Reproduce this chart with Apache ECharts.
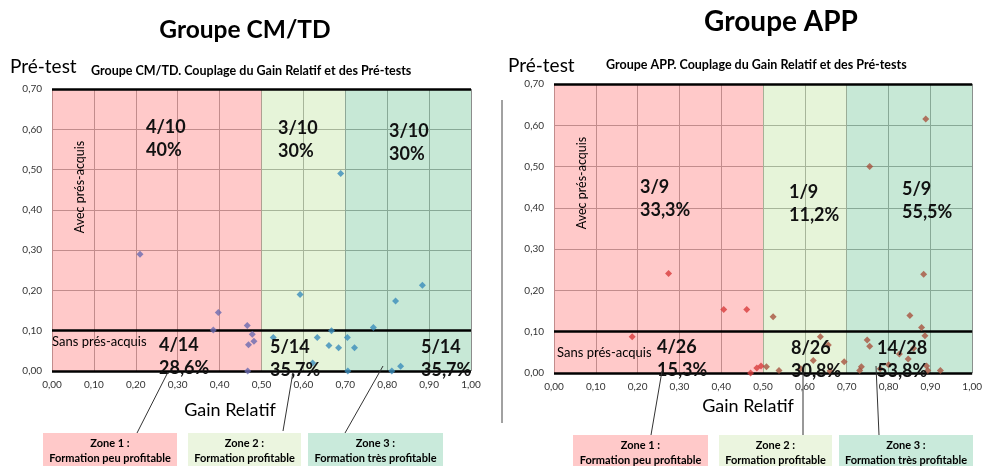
<!DOCTYPE html>
<html><head><meta charset="utf-8">
<script src="https://cdn.jsdelivr.net/npm/echarts@6/dist/echarts.min.js"></script>
<style>html,body{margin:0;padding:0;background:#fff}#c{width:985px;height:466px}</style>
</head><body><div id="c"></div>
<script>
// ---- data ----
const leftX = [0.21, 0.397, 0.385, 0.466, 0.592, 0.667, 0.689, 0.767, 0.82, 0.884,
               0.478, 0.482, 0.469, 0.467, 0.528, 0.633, 0.661, 0.684, 0.622, 0.705, 0.722, 0.706, 0.811, 0.832];
const leftY = [0.29, 0.145, 0.102, 0.113, 0.19, 0.10, 0.49, 0.108, 0.174, 0.213,
               0.091, 0.074, 0.065, 0.0, 0.083, 0.083, 0.063, 0.058, 0.02, 0.083, 0.058, 0.0, 0.0, 0.012];
const rightX = [0.274, 0.406, 0.461, 0.524, 0.889, 0.755, 0.884, 0.851, 0.879,
                0.187, 0.495, 0.485, 0.47, 0.508, 0.538, 0.637, 0.656, 0.694, 0.59, 0.62, 0.66,
                0.749, 0.755, 0.826, 0.847, 0.735, 0.731, 0.891, 0.894, 0.924, 0.887, 0.80, 0.86, 0.78];
const rightY = [0.241, 0.154, 0.154, 0.136, 0.615, 0.50, 0.239, 0.139, 0.11,
                0.088, 0.017, 0.012, 0.0, 0.015, 0.006, 0.088, 0.068, 0.027, 0.01, 0.03, 0.005,
                0.08, 0.065, 0.046, 0.034, 0.015, 0.006, 0.017, 0.006, 0.006, 0.09, 0.02, 0.06, 0.01];
const zoneBounds = [0, 0.5, 0.7, 1.0];
const thresholds = [0, 0.1, 0.7];
const titles = ['Groupe CM/TD', 'Groupe APP'];
const subtitles = ['Groupe CM/TD. Couplage du Gain Relatif et des Pré-tests', 'Groupe APP. Couplage du Gain Relatif et des Pré-tests'];
const leftHigh = ['4/10\n40%', '3/10\n30%', '3/10\n30%'];
const leftLow = ['4/14\n28,6%', '5/14\n35,7%', '5/14\n35,7%'];
const rightHigh = ['3/9\n33,3%', '1/9\n11,2%', '5/9\n55,5%'];
const rightLow = ['4/26\n15,3%', '8/26\n30,8%', '14/28\n53,8%'];
const zoneNames = ['Zone 1 :', 'Zone 2 :', 'Zone 3 :'];
const zoneDesc = ['Formation peu profitable', 'Formation profitable', 'Formation très profitable'];
const yName = 'Pré-test', xName = 'Gain Relatif';
const avecLbl = 'Avec prés-acquis', sansLbl = 'Sans prés-acquis';

// ---- build ----
const F = 'Lato, "Open Sans", sans-serif';
const fmt = v => v.toFixed(2).replace('.', ',');
const zoneOverlay = ['rgba(255,140,140,0.47)', 'rgba(200,230,170,0.45)', 'rgba(130,205,165,0.45)'];
const boxColors = ['#ffc9c9', '#ebf5df', '#c9eadb'];

function axes(gi) {
  return {
    x: { type: 'value', gridIndex: gi, min: 0, max: 1, interval: 0.1,
         axisLine: { show: false }, axisTick: { show: false },
         axisLabel: { formatter: fmt, fontSize: 10, color: '#333', margin: 9, fontFamily: F },
         splitLine: { show: true, lineStyle: { color: '#8c8c8c', width: 1 } } },
    y: { type: 'value', gridIndex: gi, min: 0, max: 0.7, interval: 0.1,
         axisLine: { show: false }, axisTick: { show: false },
         axisLabel: { formatter: fmt, fontSize: 10, color: '#333', margin: 10, fontFamily: F },
         splitLine: { show: true, lineStyle: { color: '#8c8c8c', width: 1 } } }
  };
}
const a0 = axes(0), a1 = axes(1);

function zoneSeries(i) {
  return { type: 'scatter', xAxisIndex: i, yAxisIndex: i, data: [], z: 1, silent: true,
    markArea: { silent: true, data: zoneOverlay.map((c, k) => [
      { xAxis: zoneBounds[k], itemStyle: { color: c } }, { xAxis: zoneBounds[k + 1] }]) },
    markLine: { silent: true, symbol: 'none', label: { show: false },
      lineStyle: { color: '#000', width: 2.5, type: 'solid' },
      data: thresholds.map(t => ({ yAxis: t })) } };
}
function pts(xs, ys, i, cLow, cHigh) {
  return { type: 'scatter', xAxisIndex: i, yAxisIndex: i, z: 5, symbol: 'diamond', symbolSize: 7,
    data: xs.map((x, k) => [x, ys[k]]),
    itemStyle: { color: p => p.value[0] < zoneBounds[1] ? cLow : cHigh } };
}

const g = [];
function txt(x, y, text, o) {
  g.push({ type: 'text', x, y, z: 100, style: Object.assign({ text, fill: '#000', fontFamily: F }, o || {}) });
}
function line(x1, y1, x2, y2, c, w) {
  g.push({ type: 'line', z: 100, shape: { x1, y1, x2, y2 }, style: { stroke: c || '#333', lineWidth: w || 1 } });
}
// titles
txt(245, 30, titles[0], { fontSize: 24.5, fontWeight: 'bold', align: 'center', verticalAlign: 'middle' });
txt(781, 22, titles[1], { fontSize: 28, fontWeight: 'bold', align: 'center', verticalAlign: 'middle' });
txt(10, 67, yName, { fontSize: 19, verticalAlign: 'middle' });
txt(508, 66, yName, { fontSize: 19, verticalAlign: 'middle' });
txt(91, 71, subtitles[0], { fontSize: 12.5, fontWeight: 'bold', verticalAlign: 'middle' });
txt(606, 65, subtitles[1], { fontSize: 12.5, fontWeight: 'bold', verticalAlign: 'middle' });
// separator
line(502, 100, 502, 423, '#444', 1);
// avec / sans
g.push({ type: 'text', x: 80, y: 187, z: 100, rotation: Math.PI / 2, style: { text: avecLbl, fontSize: 12.5, fontFamily: F, fill: '#000', align: 'center', verticalAlign: 'middle' } });
g.push({ type: 'text', x: 582, y: 183, z: 100, rotation: Math.PI / 2, style: { text: avecLbl, fontSize: 12.5, fontFamily: F, fill: '#000', align: 'center', verticalAlign: 'middle' } });
txt(52, 342, sansLbl, { fontSize: 13, verticalAlign: 'middle' });
txt(557, 353, sansLbl, { fontSize: 13, verticalAlign: 'middle' });
// annotations
const bold = { fontSize: 18, fontWeight: 'bold', lineHeight: 23, verticalAlign: 'top', fill: '#111' };
[[146, 116], [278, 117], [389, 120]].forEach((p, k) => txt(p[0], p[1], leftHigh[k], bold));
[[159, 334], [270, 336], [421, 336]].forEach((p, k) => txt(p[0], p[1], leftLow[k], bold));
[[640, 176], [789, 181], [902, 178]].forEach((p, k) => txt(p[0], p[1], rightHigh[k], bold));
[[657, 336], [791, 337], [877, 337]].forEach((p, k) => txt(p[0], p[1], rightLow[k], bold));
// axis names
txt(230, 410, xName, { fontSize: 18, align: 'center', verticalAlign: 'middle' });
txt(748, 406, xName, { fontSize: 18, align: 'center', verticalAlign: 'middle' });
// leader lines
line(137, 433, 168, 372); line(283, 431, 293, 372); line(345, 433, 383, 366);
line(651, 435, 662, 371); line(803, 435, 803, 372); line(879, 435, 876, 366);
// zone boxes
function boxes(list, top) {
  list.forEach((b, k) => {
    g.push({ type: 'rect', z: 90, shape: { x: b[0], y: top, width: b[1] - b[0], height: 466 - top }, style: { fill: boxColors[k] } });
    txt((b[0] + b[1]) / 2, top + 10, zoneNames[k], { fontSize: 11, fontWeight: 'bold', align: 'center', verticalAlign: 'middle' });
    txt((b[0] + b[1]) / 2, top + 25, zoneDesc[k], { fontSize: 11, fontWeight: 'bold', align: 'center', verticalAlign: 'middle' });
  });
}
boxes([[43, 177], [188, 301], [308, 443]], 433);
boxes([[573, 708], [719, 832], [839, 973]], 435);

const chart = echarts.init(document.getElementById('c'), null, { renderer: 'canvas' });
chart.setOption({
  animation: false,
  backgroundColor: '#fff',
  grid: [{ left: 52, top: 89, width: 419, height: 282 }, { left: 554, top: 84, width: 423, height: 289 }],
  xAxis: [a0.x, a1.x],
  yAxis: [a0.y, a1.y],
  series: [zoneSeries(0), zoneSeries(1),
    pts(leftX, leftY, 0, '#6a6ab0', '#3a8cba'),
    pts(rightX, rightY, 1, '#d83c3c', '#a8523f')],
  graphic: g
});
</script></body></html>
